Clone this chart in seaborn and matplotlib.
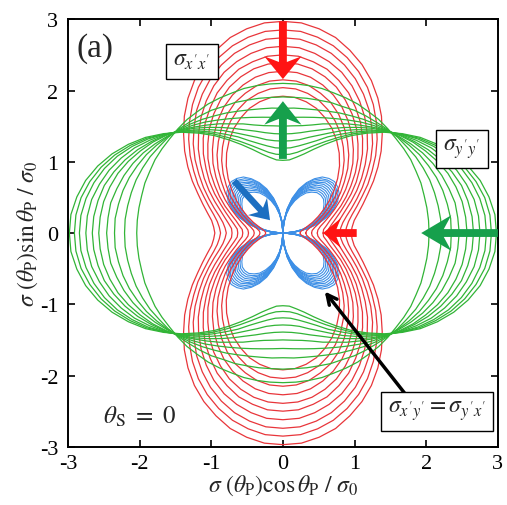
import numpy as np
import pandas as pd
import matplotlib
matplotlib.use('Agg')
import matplotlib.pyplot as plt
import seaborn as sns

# Polar angle theta_P (deg) in the first quadrant; the other quadrants are mirror images
theta_deg = [0, 5, 10, 15, 20, 25, 30, 35, 40, 45, 50, 55, 60, 65, 70, 75, 80, 85, 90]

# sigma_x'x'(theta_P) / sigma_0, one row per curve (red)
sxx = [
    [0.95, 0.97, 1.01, 1.09, 1.19, 1.31, 1.46, 1.62, 1.79, 1.96, 2.14, 2.31, 2.47, 2.61, 2.73, 2.84, 2.91, 2.96, 2.97],
    [0.87, 0.89, 0.93, 1.00, 1.10, 1.22, 1.37, 1.52, 1.69, 1.86, 2.03, 2.20, 2.36, 2.50, 2.62, 2.72, 2.79, 2.84, 2.85],
    [0.79, 0.81, 0.85, 0.92, 1.02, 1.14, 1.28, 1.43, 1.60, 1.77, 1.93, 2.10, 2.25, 2.39, 2.51, 2.61, 2.68, 2.73, 2.74],
    [0.71, 0.72, 0.77, 0.84, 0.93, 1.05, 1.19, 1.34, 1.50, 1.67, 1.83, 1.99, 2.14, 2.28, 2.40, 2.49, 2.56, 2.61, 2.62],
    [0.63, 0.64, 0.69, 0.76, 0.85, 0.96, 1.10, 1.25, 1.40, 1.57, 1.73, 1.89, 2.03, 2.17, 2.28, 2.38, 2.44, 2.49, 2.50],
    [0.56, 0.57, 0.62, 0.68, 0.77, 0.89, 1.02, 1.16, 1.32, 1.48, 1.63, 1.79, 1.93, 2.06, 2.18, 2.27, 2.34, 2.38, 2.39],
    [0.48, 0.49, 0.53, 0.60, 0.69, 0.80, 0.93, 1.07, 1.22, 1.38, 1.53, 1.68, 1.82, 1.95, 2.06, 2.15, 2.22, 2.26, 2.27],
    [0.40, 0.41, 0.45, 0.52, 0.60, 0.71, 0.84, 0.98, 1.12, 1.28, 1.43, 1.57, 1.71, 1.84, 1.95, 2.03, 2.10, 2.14, 2.15],
    [0.32, 0.33, 0.37, 0.44, 0.52, 0.63, 0.75, 0.89, 1.03, 1.18, 1.33, 1.47, 1.61, 1.73, 1.84, 1.93, 1.99, 2.03, 2.04],
    [0.24, 0.25, 0.29, 0.35, 0.44, 0.54, 0.66, 0.79, 0.93, 1.08, 1.23, 1.37, 1.50, 1.62, 1.72, 1.81, 1.87, 1.91, 1.92],
]

# sigma_y'y'(theta_P) / sigma_0 (green)
syy = [
    [2.98, 2.97, 2.92, 2.85, 2.75, 2.63, 2.49, 2.34, 2.17, 2.00, 1.83, 1.67, 1.51, 1.37, 1.25, 1.15, 1.08, 1.03, 1.02],
    [2.91, 2.90, 2.86, 2.79, 2.70, 2.59, 2.46, 2.32, 2.16, 2.01, 1.85, 1.70, 1.55, 1.42, 1.31, 1.22, 1.15, 1.11, 1.10],
    [2.84, 2.83, 2.79, 2.73, 2.65, 2.55, 2.43, 2.30, 2.16, 2.02, 1.87, 1.73, 1.60, 1.49, 1.38, 1.30, 1.24, 1.20, 1.19],
    [2.75, 2.74, 2.71, 2.65, 2.58, 2.49, 2.39, 2.27, 2.15, 2.02, 1.89, 1.77, 1.66, 1.55, 1.46, 1.39, 1.33, 1.30, 1.29],
    [2.66, 2.65, 2.62, 2.58, 2.51, 2.43, 2.34, 2.24, 2.14, 2.03, 1.92, 1.81, 1.71, 1.62, 1.54, 1.48, 1.43, 1.40, 1.39],
    [2.57, 2.56, 2.54, 2.50, 2.45, 2.38, 2.30, 2.22, 2.13, 2.04, 1.94, 1.85, 1.77, 1.69, 1.63, 1.57, 1.53, 1.51, 1.50],
    [2.46, 2.45, 2.44, 2.40, 2.36, 2.31, 2.25, 2.18, 2.11, 2.04, 1.97, 1.90, 1.83, 1.77, 1.72, 1.68, 1.65, 1.63, 1.62],
    [2.35, 2.35, 2.33, 2.31, 2.28, 2.24, 2.20, 2.15, 2.10, 2.05, 2.00, 1.95, 1.90, 1.86, 1.82, 1.79, 1.77, 1.76, 1.75],
    [2.21, 2.21, 2.20, 2.19, 2.18, 2.16, 2.14, 2.11, 2.09, 2.06, 2.03, 2.01, 1.99, 1.96, 1.95, 1.93, 1.92, 1.91, 1.91],
    [2.04, 2.04, 2.04, 2.04, 2.05, 2.05, 2.06, 2.06, 2.06, 2.07, 2.08, 2.08, 2.09, 2.09, 2.09, 2.10, 2.10, 2.10, 2.10],
]

# |sigma_x'y'(theta_P)| / sigma_0 (blue)
sxy = [
    [0, 0.18, 0.35, 0.51, 0.66, 0.78, 0.88, 0.96, 1.00, 1.02, 1.00, 0.96, 0.88, 0.78, 0.66, 0.51, 0.35, 0.18, 0],
    [0, 0.17, 0.34, 0.50, 0.64, 0.76, 0.86, 0.93, 0.97, 0.99, 0.97, 0.93, 0.86, 0.76, 0.64, 0.50, 0.34, 0.17, 0],
    [0, 0.17, 0.33, 0.48, 0.62, 0.74, 0.83, 0.90, 0.95, 0.96, 0.95, 0.90, 0.83, 0.74, 0.62, 0.48, 0.33, 0.17, 0],
    [0, 0.16, 0.32, 0.47, 0.60, 0.71, 0.81, 0.87, 0.92, 0.93, 0.92, 0.87, 0.81, 0.71, 0.60, 0.47, 0.32, 0.16, 0],
    [0, 0.16, 0.31, 0.45, 0.58, 0.69, 0.78, 0.85, 0.89, 0.90, 0.89, 0.85, 0.78, 0.69, 0.58, 0.45, 0.31, 0.16, 0],
    [0, 0.15, 0.30, 0.44, 0.56, 0.67, 0.75, 0.82, 0.86, 0.87, 0.86, 0.82, 0.75, 0.67, 0.56, 0.44, 0.30, 0.15, 0],
    [0, 0.15, 0.29, 0.42, 0.54, 0.64, 0.73, 0.79, 0.83, 0.84, 0.83, 0.79, 0.73, 0.64, 0.54, 0.42, 0.29, 0.15, 0],
    [0, 0.14, 0.28, 0.41, 0.52, 0.62, 0.70, 0.76, 0.80, 0.81, 0.80, 0.76, 0.70, 0.62, 0.52, 0.41, 0.28, 0.14, 0],
    [0, 0.14, 0.27, 0.39, 0.50, 0.60, 0.68, 0.73, 0.77, 0.78, 0.77, 0.73, 0.68, 0.60, 0.50, 0.39, 0.27, 0.14, 0],
    [0, 0.13, 0.26, 0.38, 0.48, 0.57, 0.65, 0.70, 0.74, 0.75, 0.74, 0.70, 0.65, 0.57, 0.48, 0.38, 0.26, 0.13, 0],
]

ticks = [-3, -2, -1, 0, 1, 2, 3]


def full_loop(r_quarter):
    # mirror the first quadrant into a closed curve, then polar -> x, y
    th = np.radians(theta_deg)
    r = np.asarray(r_quarter, dtype=float)
    ang = np.concatenate([th, np.pi - th[::-1][1:], np.pi + th[1:], 2 * np.pi - th[::-1][1:]])
    rr = np.concatenate([r, r[::-1][1:], r[1:], r[::-1][1:]])
    return rr * np.cos(ang), rr * np.sin(ang)


def family_frame(table):
    parts = []
    for k, r in enumerate(table):
        x, y = full_loop(r)
        parts.append(pd.DataFrame({'x': x, 'y': y, 'curve': k}))
    return pd.concat(parts, ignore_index=True)


sns.set_style('ticks')
plt.rcParams['font.family'] = ['Liberation Serif', 'DejaVu Serif']
plt.rcParams['mathtext.fontset'] = 'stix'
plt.rcParams['axes.unicode_minus'] = False

fig = plt.figure(figsize=(5.07, 5.06), dpi=100)
ax = fig.add_axes([0.134, 0.115, 0.848, 0.845])

for table, col, lw in [(sxy, '#3d8fe6', 0.8), (sxx, '#e8353a', 0.9), (syy, '#31b436', 0.9)]:
    sns.lineplot(data=family_frame(table), x='x', y='y', units='curve', estimator=None,
                 sort=False, color=col, lw=lw, legend=False, ax=ax)

# thick arrows showing the trend of each family
arrow_kw = dict(length_includes_head=True, overhang=0.25, lw=0, zorder=5)
ax.arrow(0, 2.97, 0, -0.81, width=0.11, head_width=0.52, head_length=0.32, color='#ff1414', **arrow_kw)
ax.arrow(1.03, 0, -0.47, 0, width=0.11, head_width=0.42, head_length=0.25, color='#ff1414', **arrow_kw)
ax.arrow(0, 1.04, 0, 0.81, width=0.11, head_width=0.52, head_length=0.33, color='#16a04c', **arrow_kw)
ax.arrow(3.0, 0, -1.07, 0, width=0.11, head_width=0.50, head_length=0.42, color='#16a04c', **arrow_kw)
ax.arrow(-0.68, 0.73, 0.50, -0.55, width=0.09, head_width=0.36, head_length=0.26, color='#1c6fc1', **arrow_kw)
ax.annotate('', xy=(0.56, -0.79), xytext=(1.74, -2.30),
            arrowprops=dict(arrowstyle='->,head_length=0.7,head_width=0.35', color='black', lw=2.5),
            zorder=5)

box = dict(boxstyle='square,pad=0.3', fc='white', ec='black', lw=1)
ax.text(-1.27, 2.41, r"$\sigma_{x'x'}$", fontsize=17, ha='center', va='center', bbox=box, zorder=6)
ax.text(2.50, 1.18, r"$\sigma_{y'y'}$", fontsize=17, ha='center', va='center', bbox=box, zorder=6)
ax.text(2.15, -2.50, r"$\sigma_{x'y'} = \sigma_{y'x'}$", fontsize=17, ha='center', va='center',
        bbox=box, zorder=6)
ax.text(-2.0, -2.57, r'$\theta_{\rm S}\ =\ 0$', fontsize=18, ha='center', va='center')
ax.text(-2.62, 2.6, '(a)', fontsize=24, ha='center', va='center')

ax.set_xlim(-3, 3)
ax.set_ylim(-3, 3)
ax.set_xticks(ticks)
ax.set_yticks(ticks)
ax.set_xticklabels([str(t) for t in ticks])
ax.set_yticklabels([str(t) for t in ticks])
ax.tick_params(direction='in', length=5, width=1.2, labelsize=16, top=True, right=True,
               colors='black')
ax.tick_params(axis='x', pad=5)
ax.tick_params(axis='y', pad=7)
for s in ax.spines.values():
    s.set_linewidth(1.4)
    s.set_color('black')
ax.set_xlabel(r'$\sigma\ (\theta_{\rm P})\cos\theta_{\rm P}\ /\ \sigma_0$', fontsize=17, labelpad=0)
ax.set_ylabel(r'$\sigma\ (\theta_{\rm P})\sin\theta_{\rm P}\ /\ \sigma_0$', fontsize=17, labelpad=0)

fig.savefig('out.png', dpi=100)
